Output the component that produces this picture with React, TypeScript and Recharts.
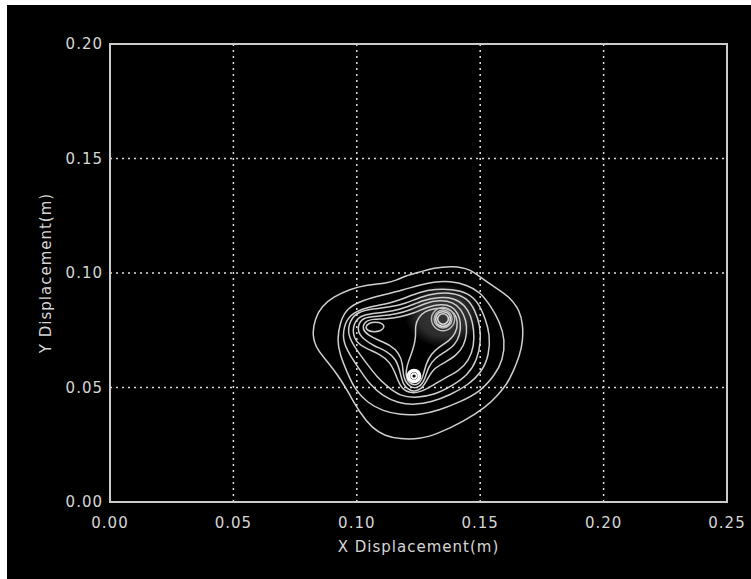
import React from "react";
import {
	ScatterChart,
	Scatter,
	XAxis,
	YAxis,
	CartesianGrid,
	ReferenceArea,
	Label,
} from "recharts";

const xTicks = [0, 0.05, 0.1, 0.15, 0.2, 0.25];
const yTicks = [0, 0.05, 0.1, 0.15, 0.2];

// contour rings, outermost first, [x, y] in metres
const ring1 = [
	[0.0818, 0.0729], [0.0831, 0.0803], [0.0859, 0.0856], [0.0904, 0.0895], [0.0972, 0.093],
	[0.1041, 0.0948], [0.1122, 0.0956], [0.1163, 0.0969], [0.1195, 0.0987], [0.1256, 0.1004],
	[0.1309, 0.1022], [0.139, 0.1031], [0.1459, 0.1017], [0.1499, 0.0983], [0.1552, 0.0943],
	[0.1621, 0.0895], [0.1661, 0.0834], [0.1673, 0.0773], [0.1673, 0.0707], [0.1661, 0.0642],
	[0.1633, 0.0568], [0.1609, 0.0515], [0.1568, 0.0463], [0.1528, 0.0419], [0.143, 0.0349],
	[0.1325, 0.0297], [0.1256, 0.0275], [0.1175, 0.0275], [0.1114, 0.0288], [0.1062, 0.0323],
	[0.1013, 0.0389], [0.0972, 0.0467], [0.0932, 0.0541], [0.0883, 0.0611], [0.0839, 0.0664],
];

const ring2 = [
	[0.092, 0.0707], [0.0932, 0.0786], [0.096, 0.0847], [0.1025, 0.0882], [0.1106, 0.0904],
	[0.1187, 0.0926], [0.1256, 0.0948], [0.1309, 0.0961], [0.1378, 0.0965], [0.1447, 0.0948],
	[0.1499, 0.0917], [0.154, 0.086], [0.158, 0.0786], [0.1601, 0.0707], [0.1592, 0.062],
	[0.156, 0.0555], [0.1499, 0.048], [0.1418, 0.0437], [0.1337, 0.0402], [0.1256, 0.038],
	[0.1175, 0.038], [0.1106, 0.0397], [0.1045, 0.0432], [0.0993, 0.0489], [0.096, 0.0568],
	[0.0932, 0.0642],
];

const ring3 = [
	[0.094, 0.0707], [0.0952, 0.0786], [0.0981, 0.0825], [0.1045, 0.0852], [0.1126, 0.0865],
	[0.1195, 0.0891], [0.1256, 0.0917], [0.1317, 0.093], [0.1386, 0.093], [0.1451, 0.0913],
	[0.1491, 0.0873], [0.152, 0.0804], [0.154, 0.0729], [0.1536, 0.0642], [0.1507, 0.0568],
	[0.1451, 0.0511], [0.1378, 0.0467], [0.1305, 0.0437], [0.1236, 0.0424], [0.1167, 0.0432],
	[0.1106, 0.0463], [0.1054, 0.0511], [0.1013, 0.0576], [0.0972, 0.0642],
];

const ring4 = [
	[0.096, 0.0729], [0.0972, 0.0795], [0.1005, 0.083], [0.1062, 0.0843], [0.1135, 0.0852],
	[0.1195, 0.0865], [0.1256, 0.0895], [0.1325, 0.0913], [0.139, 0.0913], [0.1447, 0.0891],
	[0.1479, 0.0838], [0.1499, 0.0773], [0.1503, 0.0699], [0.1487, 0.062], [0.1451, 0.0555],
	[0.1386, 0.0507], [0.1313, 0.0467], [0.1236, 0.0454], [0.1175, 0.0463], [0.1126, 0.0502],
	[0.1082, 0.0546], [0.1045, 0.0598], [0.1005, 0.0655],
];

const ring5 = [
	[0.0981, 0.0738], [0.0993, 0.0795], [0.1025, 0.0817], [0.1082, 0.0825], [0.1147, 0.0834],
	[0.1207, 0.0852], [0.1268, 0.0882], [0.1333, 0.0895], [0.1394, 0.0891], [0.1438, 0.086],
	[0.1463, 0.0812], [0.1475, 0.0751], [0.1475, 0.0681], [0.1455, 0.062], [0.1414, 0.0572],
	[0.1357, 0.0542], [0.1305, 0.0507], [0.1268, 0.0485], [0.1224, 0.0472], [0.1179, 0.0493],
	[0.1159, 0.0555], [0.1135, 0.0611], [0.1094, 0.0646], [0.1041, 0.0668], [0.1001, 0.0694],
];

const ring6 = [
	[0.1001, 0.0747], [0.1013, 0.0795], [0.1045, 0.0808], [0.1098, 0.0812], [0.1159, 0.0821],
	[0.122, 0.0838], [0.1276, 0.0869], [0.1337, 0.0882], [0.139, 0.0873], [0.1422, 0.0843],
	[0.1443, 0.0795], [0.1447, 0.0738], [0.1434, 0.0681], [0.1402, 0.0638], [0.1353, 0.0607],
	[0.1309, 0.0581], [0.1285, 0.0533], [0.126, 0.0489], [0.1224, 0.048], [0.1187, 0.0507],
	[0.1175, 0.0572], [0.1159, 0.0624], [0.1122, 0.0659], [0.107, 0.0681], [0.1025, 0.0712],
];

const ring7 = [
	[0.1021, 0.0755], [0.1033, 0.079], [0.1066, 0.0799], [0.1118, 0.0799], [0.1175, 0.0808],
	[0.1232, 0.0825], [0.1285, 0.0852], [0.1341, 0.0865], [0.1386, 0.0856], [0.141, 0.0825],
	[0.1422, 0.0782], [0.1418, 0.0729], [0.1398, 0.0686], [0.1357, 0.0655], [0.1317, 0.0629],
	[0.1289, 0.059], [0.1276, 0.0533], [0.1252, 0.0498], [0.1216, 0.0498], [0.1187, 0.0542],
	[0.1187, 0.0603], [0.1171, 0.0651], [0.1135, 0.0686], [0.1086, 0.0707], [0.1045, 0.0729],
];

// left shoulder
const leftPeak = [
	[0.1033, 0.0764], [0.1049, 0.0782], [0.1074, 0.0786], [0.1102, 0.0782],
	[0.1114, 0.0764], [0.1098, 0.0747], [0.107, 0.0742], [0.1045, 0.0747],
];

// ridge joining the upper peak and the lower spot
const ridge = [
	[0.1248, 0.0804], [0.1276, 0.0834], [0.1321, 0.0847], [0.1366, 0.0847], [0.1398, 0.0825],
	[0.141, 0.0786], [0.1402, 0.0738], [0.1374, 0.0703], [0.1333, 0.0677], [0.1301, 0.0646],
	[0.128, 0.0603], [0.1268, 0.0546], [0.1252, 0.0511], [0.1216, 0.0511], [0.1195, 0.055],
	[0.1207, 0.0611], [0.1228, 0.0664], [0.124, 0.0721], [0.1236, 0.0769],
];

const upperPeak13 = [
	[0.1297, 0.0799], [0.1313, 0.0838], [0.1349, 0.0856], [0.1386, 0.0838],
	[0.1402, 0.0799], [0.1386, 0.076], [0.1349, 0.0742], [0.1313, 0.076],
];
const upperPeak10 = [
	[0.1309, 0.0799], [0.1321, 0.083], [0.1349, 0.0843], [0.1378, 0.083],
	[0.139, 0.0799], [0.1378, 0.0769], [0.1349, 0.0755], [0.1321, 0.0769],
];
const upperPeak8 = [
	[0.1317, 0.0799], [0.1325, 0.0825], [0.1349, 0.0834], [0.1374, 0.0825],
	[0.1382, 0.0799], [0.1374, 0.0773], [0.1349, 0.0764], [0.1325, 0.0773],
];
const upperPeak6 = [
	[0.1325, 0.0799], [0.1333, 0.0817], [0.1349, 0.0825], [0.1366, 0.0817],
	[0.1374, 0.0799], [0.1366, 0.0782], [0.1349, 0.0773], [0.1333, 0.0782],
];

const lowerSpot7 = [
	[0.1203, 0.055], [0.1212, 0.0572], [0.1232, 0.0581], [0.1252, 0.0572],
	[0.126, 0.055], [0.1252, 0.0528], [0.1232, 0.052], [0.1212, 0.0528],
];
const lowerSpot5 = [
	[0.1212, 0.055], [0.1216, 0.0568], [0.1232, 0.0572], [0.1248, 0.0568],
	[0.1252, 0.055], [0.1248, 0.0533], [0.1232, 0.0528], [0.1216, 0.0533],
];
const lowerSpot3 = [
	[0.122, 0.055], [0.1224, 0.0559], [0.1232, 0.0563], [0.124, 0.0559],
	[0.1244, 0.055], [0.124, 0.0542], [0.1232, 0.0537], [0.1224, 0.0542],
];

// centre of the dense upper peak
const upperCentre = [[0.1349, 0.0815]];

const toPoints = (ring: number[][]) => ring.map(([x, y]) => ({ x, y }));

const contours = [
	{ ring: ring1, stroke: "#cfcfcf", width: 1.5 },
	{ ring: ring2, stroke: "#cfcfcf", width: 1.5 },
	{ ring: ring3, stroke: "#cfcfcf", width: 1.5 },
	{ ring: ring4, stroke: "#cfcfcf", width: 1.5 },
	{ ring: ring5, stroke: "#cfcfcf", width: 1.5 },
	{ ring: ring6, stroke: "#cfcfcf", width: 1.5 },
	{ ring: ring7, stroke: "#cfcfcf", width: 1.5 },
	{ ring: leftPeak, stroke: "#cfcfcf", width: 1.5 },
	{ ring: ridge, stroke: "#cfcfcf", width: 1.5 },
	{ ring: upperPeak13, stroke: "#bdbdbd", width: 1.4 },
	{ ring: upperPeak10, stroke: "#bdbdbd", width: 1.4 },
	{ ring: upperPeak8, stroke: "#d8d8d8", width: 1.6 },
	{ ring: upperPeak6, stroke: "#d8d8d8", width: 1.6 },
	{ ring: lowerSpot7, stroke: "#ffffff", width: 2 },
	{ ring: lowerSpot5, stroke: "#ffffff", width: 2 },
	{ ring: lowerSpot3, stroke: "#ffffff", width: 2 },
];

const font = "'DejaVu Sans', sans-serif";
const textColor = "#d6d6d6";

const noDot = () => <g />;

const Haze = (props: any) => (
	<ellipse cx={props.cx} cy={props.cy} rx={38} ry={32} fill="url(#peakHaze)" />
);

const XTitle = (props: any) => {
	const { x, y, width } = props.viewBox;
	return (
		<text
			x={x + width / 2}
			y={y + 50}
			textAnchor="middle"
			fill={textColor}
			fontSize={15}
			letterSpacing={1}
			fontFamily={font}
		>
			X Displacement(m)
		</text>
	);
};

const YTitle = (props: any) => {
	const { x, y, height } = props.viewBox;
	const cx = x + 44;
	const cy = y + height / 2;
	return (
		<text
			x={cx}
			y={cy}
			transform={`rotate(-90 ${cx} ${cy})`}
			textAnchor="middle"
			fill={textColor}
			fontSize={15}
			letterSpacing={1}
			fontFamily={font}
		>
			Y Displacement(m)
		</text>
	);
};

export default function App() {
	return (
		<div
			style={{
				position: "fixed",
				left: 7,
				top: 5,
				width: 744,
				height: 574,
				background: "#000",
			}}
		>
			<ScatterChart
				width={744}
				height={574}
				margin={{ top: 39, right: 24, left: 0, bottom: 0 }}
			>
				<defs>
					<radialGradient id="peakHaze">
						<stop offset="0%" stopColor="#8c8c8c" stopOpacity={0.4} />
						<stop offset="65%" stopColor="#8c8c8c" stopOpacity={0.32} />
						<stop offset="100%" stopColor="#8c8c8c" stopOpacity={0} />
					</radialGradient>
				</defs>
				<CartesianGrid stroke="#dedede" strokeWidth={1.5} strokeDasharray="2 4" />
				<XAxis
					type="number"
					dataKey="x"
					domain={[0, 0.25]}
					ticks={xTicks}
					tickFormatter={(v: number) => v.toFixed(2)}
					height={77}
					axisLine={false}
					tickLine={false}
					tickSize={0}
					tickMargin={15}
					tick={{ fill: textColor, fontSize: 15, fontFamily: font, letterSpacing: 1 }}
				>
					<Label content={XTitle} />
				</XAxis>
				<YAxis
					type="number"
					dataKey="y"
					domain={[0, 0.2]}
					ticks={yTicks}
					tickFormatter={(v: number) => v.toFixed(2)}
					width={103}
					axisLine={false}
					tickLine={false}
					tickSize={0}
					tickMargin={7}
					tick={{ fill: textColor, fontSize: 15, fontFamily: font, letterSpacing: 1 }}
				>
					<Label content={YTitle} />
				</YAxis>
				<ReferenceArea
					x1={0}
					x2={0.25}
					y1={0}
					y2={0.2}
					fill="none"
					fillOpacity={0}
					stroke="#cbcbcb"
					strokeWidth={2}
				/>
				<Scatter
					data={toPoints(upperCentre)}
					shape={Haze}
					isAnimationActive={false}
				/>
				{contours.map((c, i) => (
					<Scatter
						key={i}
						data={toPoints(c.ring)}
						line={{ stroke: c.stroke, strokeWidth: c.width, fill: "none" }}
						lineType="joint"
						lineJointType="basisClosed"
						shape={noDot}
						isAnimationActive={false}
					/>
				))}
			</ScatterChart>
		</div>
	);
}
